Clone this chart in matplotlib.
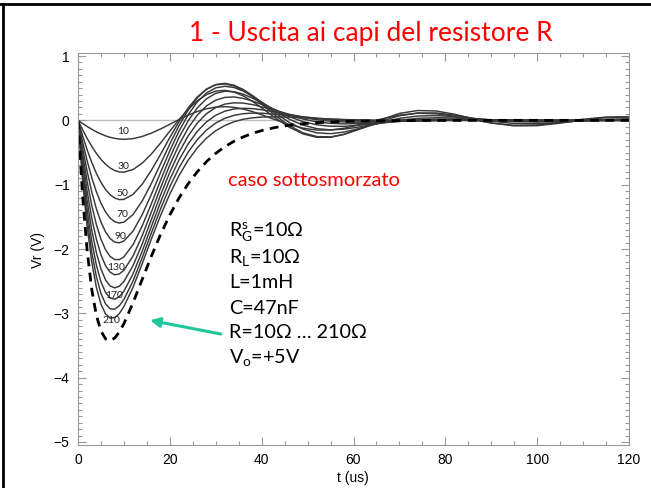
import numpy as np
import matplotlib.pyplot as plt
from matplotlib.lines import Line2D
from matplotlib.ticker import MultipleLocator

plt.rcParams['font.family'] = ['Lato', 'DejaVu Sans']
plt.rcParams['mathtext.fontset'] = 'custom'
plt.rcParams['mathtext.rm'] = 'Lato'

# tempo (us)
t_us = [0, 1, 2, 3, 4, 5, 6, 7, 8, 9, 10,
        12, 14, 16, 18, 20, 22, 24, 26, 28, 30, 32, 34, 36, 38, 40,
        43, 46, 49, 52, 55, 58,
        62, 66, 70, 74, 78, 82, 86, 90,
        95, 100, 105, 110, 115, 120]

# Vr (V) per R = 10 ... 210 ohm
vr_10 = [0, -0.049, -0.096, -0.139, -0.178, -0.212, -0.241, -0.264, -0.280, -0.291, -0.295,
         -0.284, -0.250, -0.198, -0.133, -0.061, 0.013, 0.080, 0.138, 0.180, 0.206, 0.213, 0.202, 0.175, 0.136, 0.087,
         0.008, -0.066, -0.121, -0.151, -0.150, -0.122,
         -0.057, 0.019, 0.081, 0.110, 0.102, 0.062, 0.008, -0.042,
         -0.077, -0.072, -0.033, 0.017, 0.051, 0.057]
vr_30 = [0, -0.146, -0.282, -0.405, -0.513, -0.607, -0.682, -0.740, -0.780, -0.802, -0.806,
         -0.764, -0.665, -0.522, -0.351, -0.167, 0.012, 0.173, 0.305, 0.400, 0.455, 0.466, 0.439, 0.380, 0.295, 0.195,
         0.037, -0.106, -0.211, -0.264, -0.264, -0.217,
         -0.109, 0.012, 0.108, 0.153, 0.145, 0.095, 0.025, -0.040,
         -0.086, -0.083, -0.044, 0.007, 0.043, 0.052]
vr_50 = [0, -0.241, -0.460, -0.655, -0.824, -0.964, -1.075, -1.157, -1.208, -1.232, -1.229,
         -1.150, -0.991, -0.774, -0.526, -0.267, -0.022, 0.194, 0.365, 0.486, 0.552, 0.567, 0.534, 0.464, 0.367, 0.253,
         0.076, -0.081, -0.194, -0.252, -0.257, -0.217,
         -0.121, -0.014, 0.071, 0.115, 0.115, 0.082, 0.033, -0.013,
         -0.049, -0.053, -0.033, -0.005, 0.017, 0.025]
vr_70 = [0, -0.334, -0.632, -0.891, -1.110, -1.288, -1.424, -1.520, -1.576, -1.596, -1.582,
         -1.463, -1.251, -0.978, -0.673, -0.368, -0.083, 0.161, 0.352, 0.485, 0.557, 0.575, 0.546, 0.479, 0.386, 0.280,
         0.113, -0.032, -0.136, -0.194, -0.207, -0.182,
         -0.114, -0.034, 0.031, 0.067, 0.074, 0.059, 0.031, 0.004,
         -0.020, -0.027, -0.020, -0.008, 0.004, 0.009]
vr_90 = [0, -0.425, -0.796, -1.114, -1.375, -1.582, -1.735, -1.838, -1.893, -1.904, -1.875,
         -1.720, -1.464, -1.148, -0.806, -0.472, -0.168, 0.089, 0.289, 0.427, 0.505, 0.530, 0.510, 0.455, 0.375, 0.284,
         0.143, 0.018, -0.074, -0.129, -0.148, -0.137,
         -0.095, -0.043, 0.002, 0.031, 0.041, 0.037, 0.024, 0.009,
         -0.005, -0.011, -0.010, -0.006, -0.001, 0.002]
vr_110 = [0, -0.514, -0.955, -1.323, -1.620, -1.849, -2.012, -2.117, -2.164, -2.165, -2.122,
          -1.931, -1.639, -1.293, -0.930, -0.580, -0.267, -0.007, 0.195, 0.336, 0.420, 0.453, 0.445, 0.406, 0.345, 0.273,
          0.160, 0.058, -0.020, -0.069, -0.092, -0.093,
          -0.072, -0.042, -0.013, 0.008, 0.018, 0.019, 0.015, 0.009,
          0.001, -0.003, -0.004, -0.003, -0.002, 0.000]
vr_130 = [0, -0.602, -1.107, -1.521, -1.847, -2.091, -2.260, -2.361, -2.401, -2.388, -2.330,
          -2.107, -1.789, -1.421, -1.046, -0.692, -0.380, -0.119, 0.082, 0.225, 0.314, 0.357, 0.364, 0.341, 0.300, 0.248,
          0.162, 0.083, 0.020, -0.023, -0.047, -0.055,
          -0.050, -0.034, -0.017, -0.003, 0.005, 0.008, 0.008, 0.006,
          0.003, 0.000, 0.000, 0.000, 0.000, 0.000]
vr_150 = [0, -0.688, -1.254, -1.707, -2.056, -2.310, -2.480, -2.575, -2.604, -2.578, -2.505,
          -2.257, -1.917, -1.539, -1.158, -0.806, -0.496, -0.241, -0.041, 0.104, 0.199, 0.253, 0.273, 0.268, 0.245, 0.211,
          0.152, 0.094, 0.045, 0.009, -0.014, -0.025,
          -0.029, -0.023, -0.015, -0.007, -0.002, 0.002, 0.002, 0.001,
          0, 0, 0, 0, 0, 0]
vr_170 = [0, -0.772, -1.395, -1.883, -2.250, -2.511, -2.676, -2.763, -2.781, -2.741, -2.656,
          -2.384, -2.031, -1.646, -1.268, -0.919, -0.616, -0.366, -0.169, -0.023, 0.079, 0.143, 0.177, 0.188, 0.182, 0.165,
          0.129, 0.090, 0.055, 0.028, 0.008, -0.004,
          -0.012, -0.012, -0.010, -0.007, -0.003, 0, 0, 0,
          0, 0, 0, 0, 0, 0]
vr_190 = [0, -0.854, -1.530, -2.048, -2.429, -2.692, -2.853, -2.929, -2.934, -2.882, -2.784,
          -2.495, -2.132, -1.747, -1.373, -1.033, -0.738, -0.493, -0.298, -0.150, -0.042, 0.032, 0.078, 0.103, 0.113, 0.111,
          0.096, 0.075, 0.053, 0.034, 0.019, 0.009,
          0.000, -0.004, -0.004, -0.004, -0.002, 0, 0, 0,
          0, 0, 0, 0, 0, 0]
vr_210 = [0, -0.935, -1.660, -2.204, -2.595, -2.857, -3.009, -3.074, -3.067, -3.004, -2.895,
          -2.593, -2.225, -1.841, -1.476, -1.145, -0.858, -0.619, -0.426, -0.276, -0.161, -0.079, -0.021, 0.017, 0.039, 0.051,
          0.055, 0.050, 0.040, 0.029, 0.021, 0.013,
          0.006, 0.002, 0.000, 0, 0, 0, 0, 0,
          0, 0, 0, 0, 0, 0]
# curva tratteggiata (smorzamento critico)
vr_crit = [0, -1.174, -2.030, -2.631, -3.032, -3.276, -3.397, -3.426, -3.384, -3.290, -3.160,
           -2.833, -2.469, -2.108, -1.770, -1.470, -1.207, -0.985, -0.797, -0.641, -0.513, -0.409, -0.324, -0.257, -0.202, -0.159,
           -0.110, -0.076, -0.052, -0.036, -0.025, -0.017,
           -0.010, -0.006, -0.004, -0.002, -0.001, -0.001, 0, 0,
           0, 0, 0, 0, 0, 0]

curves = [vr_10, vr_30, vr_50, vr_70, vr_90, vr_110, vr_130, vr_150, vr_170, vr_190, vr_210]

curve_labels = ['10', '30', '50', '70', '90', '130', '170', '210']
label_t = [9.9, 9.9, 9.75, 9.6, 9.2, 8.3, 7.9, 7.3]
label_v = [-0.17, -0.72, -1.14, -1.47, -1.81, -2.28, -2.72, -3.11]

W, H = 651, 488
def px(x, y):
    return x / W, 1 - y / H

fig = plt.figure(figsize=(W / 100, H / 100), dpi=100)
ax = fig.add_axes([78 / W, 1 - 445 / H, (629 - 78) / W, (445 - 53) / H])

ax.axhline(0, color='#bdbdbd', lw=1.0, zorder=0)
for vr in curves:
    ax.plot(t_us, vr, color='#383838', lw=1.05)
ax.plot(t_us, vr_crit, color='black', lw=2.0, dashes=(3.2, 2.3))

for s, tx, vy in zip(curve_labels, label_t, label_v):
    ax.text(tx, vy, s, fontsize=7.5, ha='center', va='center', color='#222222')

ax.set_xlim(0, 120)
ax.set_ylim(-5.047, 1.047)
ax.xaxis.set_major_locator(MultipleLocator(20))
ax.xaxis.set_minor_locator(MultipleLocator(5))
ax.yaxis.set_major_locator(MultipleLocator(1))
ax.yaxis.set_minor_locator(MultipleLocator(0.1))
ax.tick_params(which='both', direction='in', top=True, right=True, color='#9a9a9a', width=0.8)
ax.tick_params(which='major', length=6, labelsize=10, pad=6)
ax.tick_params(which='minor', length=3)
for lab in ax.get_xticklabels() + ax.get_yticklabels():
    lab.set_family('Liberation Sans')
for sp in ax.spines.values():
    sp.set_color('#9a9a9a')
    sp.set_linewidth(0.8)

fig.text(*px(38, 250), 'Vr (V)', rotation=90, ha='center', va='center',
         fontsize=10, family='Liberation Sans')
fig.text(*px(353, 478), 't (us)', ha='center', va='center',
         fontsize=10, family='Liberation Sans')

# titolo e testi della slide
fig.text(*px(371, 33), '1 - Uscita ai capi del resistore R', color='#ff0000',
         fontsize=19, ha='center', va='center')
fig.text(*px(228, 181), 'caso sottosmorzato', color='#ff0000', fontsize=14.5,
         ha='left', va='center')

params = [r'$\mathregular{R_G^s}$=10Ω', r'$\mathregular{R_L}$=10Ω', 'L=1mH', 'C=47nF',
          'R=10Ω … 210Ω', r'$\mathregular{V_o}$=+5V']
params_y = [232, 257, 283, 309, 333, 358]
for s, yy in zip(params, params_y):
    fig.text(*px(229, yy), s, fontsize=14.2, ha='left', va='center', color='black')

ax.annotate('', xy=(15.1, -3.10), xytext=(31.7, -3.33),
            arrowprops=dict(arrowstyle='-|>', color='#1fc79a', lw=2.2, mutation_scale=14))

# cornice della slide
fig.add_artist(Line2D([0, 1], [1 - 4 / H, 1 - 4 / H], color='black', lw=2))
fig.add_artist(Line2D([3 / W, 3 / W], [0, 1 - 4 / H], color='black', lw=2))

fig.savefig('out.png', dpi=100)
